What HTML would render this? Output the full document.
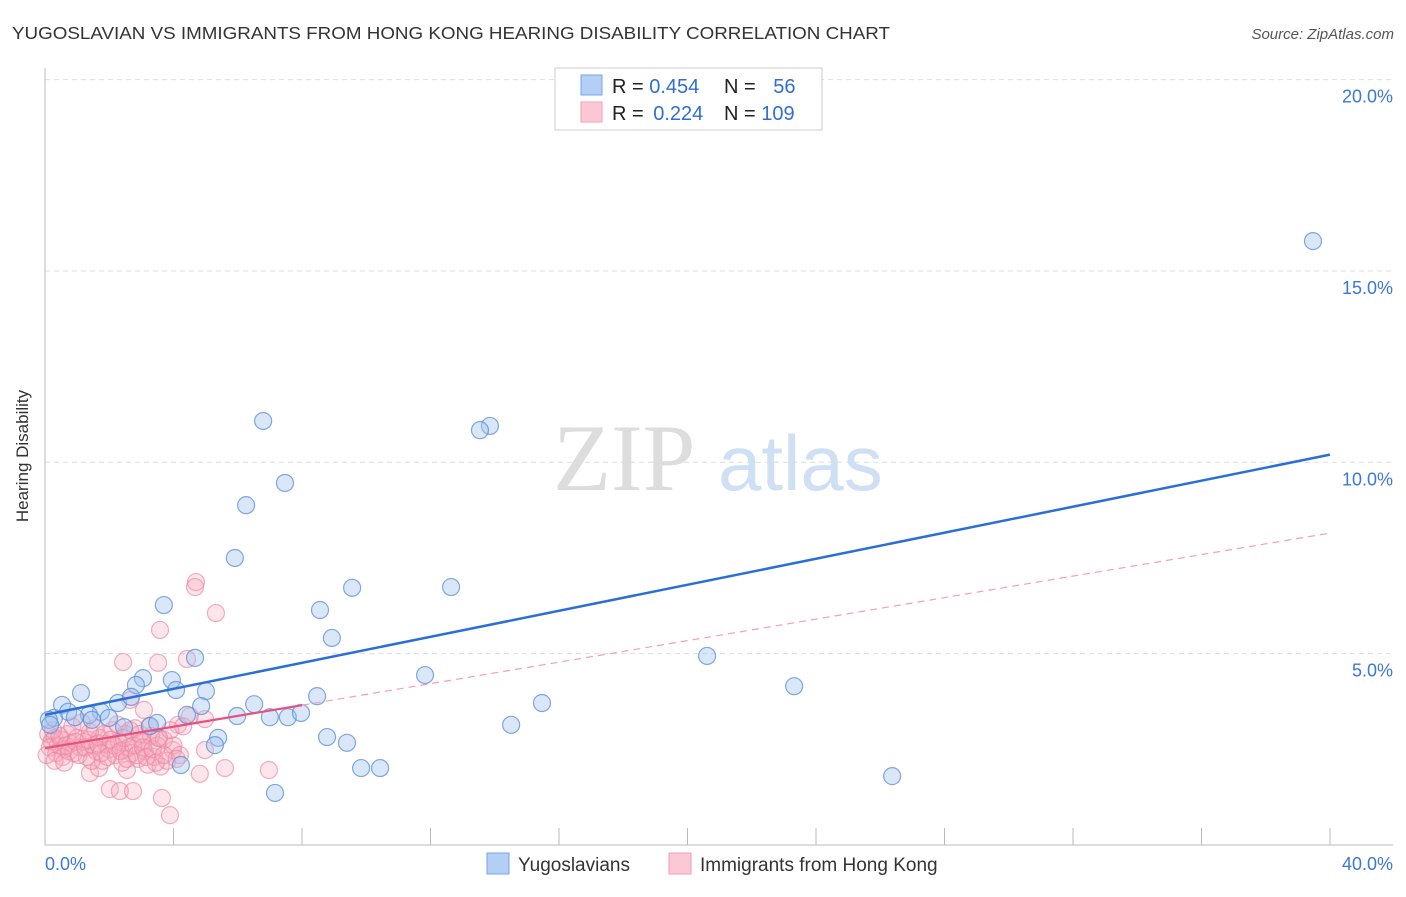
<!DOCTYPE html>
<html><head><meta charset="utf-8"><style>
body{margin:0;background:#fff;width:1406px;height:892px;overflow:hidden;font-family:"Liberation Sans",sans-serif}
</style></head><body>
<svg width="1406" height="892" xmlns="http://www.w3.org/2000/svg" style="font-family:'Liberation Sans',sans-serif">
<text x="12" y="39" font-size="17.5" fill="#333" textLength="878" lengthAdjust="spacingAndGlyphs">YUGOSLAVIAN VS IMMIGRANTS FROM HONG KONG HEARING DISABILITY CORRELATION CHART</text>
<text x="1394" y="39" font-size="15" fill="#555" font-style="italic" text-anchor="end">Source: ZipAtlas.com</text>
<g id="grid"></g>
<g><text x="553" y="490" font-size="95" fill="#ddd" font-family="'Liberation Serif',serif">ZIP</text><text x="718" y="490" font-size="78" fill="#d0e0f4">atlas</text></g>
<line x1="45" y1="68" x2="45" y2="845" stroke="#bbb"/>
<line x1="45" y1="845" x2="1393" y2="845" stroke="#bbb"/>
<text x="28" y="456" font-size="17" fill="#333" text-anchor="middle" transform="rotate(-90 28 456)">Hearing Disability</text>
<g id="ticks"></g>
<g id="pink"></g><g id="blue"></g><g id="lines"></g>
<g>
<rect x="555" y="68" width="267" height="62" fill="#fff" stroke="#ccc"/>
<rect x="581" y="75" width="21" height="20" fill="#b3cff5" stroke="#7aa6e6"/>
<rect x="581" y="102" width="21" height="20" fill="#fcc8d6" stroke="#f0a0b8"/>
<text x="612" y="93" font-size="20" fill="#222">R = <tspan fill="#2f6fd1">0.454</tspan></text>
<text x="724" y="93" font-size="20" fill="#222">N = <tspan fill="#2f6fd1" dx="12">56</tspan></text>
<text x="612" y="120" font-size="20" fill="#222">R = <tspan fill="#2f6fd1" dx="4">0.224</tspan></text>
<text x="724" y="120" font-size="20" fill="#222">N = <tspan fill="#2f6fd1">109</tspan></text>
</g>
<g>
<rect x="487" y="853" width="22" height="21" fill="#b3cff5" stroke="#7aa6e6"/>
<text x="518" y="871" font-size="19" fill="#333">Yugoslavians</text>
<rect x="669" y="853" width="22" height="21" fill="#fcc8d6" stroke="#f0a0b8"/>
<text x="700" y="871" font-size="19" fill="#333">Immigrants from Hong Kong</text>
</g>
</svg>
<script>
const yTicks=[5,10,15,20];
const yTickLabels=["5.0%","10.0%","15.0%","20.0%"];
const xTickLabels=["0.0%","40.0%"];
const blueX=[39.47,6.79,13.85,13.54,7.47,6.26,5.91,3.70,9.56,12.64,8.56,8.93,4.67,20.61,3.95,3.05,2.83,4.08,5.01,1.12,23.32,11.83,0.53,2.27,2.68,4.86,6.51,8.47,15.47,0.72,1.74,1.37,1.99,0.28,0.12,5.98,7.00,7.56,7.97,1.46,2.46,3.27,3.49,4.42,14.51,5.39,8.78,9.40,5.29,4.23,9.84,10.43,26.37,7.16,0.16,0.93];
const blueY=[15.78,11.08,10.95,10.84,9.46,8.88,7.50,6.27,6.72,6.74,6.14,5.41,4.89,4.94,4.31,4.36,4.18,4.05,4.02,3.97,4.15,4.44,3.66,3.71,3.87,3.63,3.68,3.89,3.71,3.48,3.48,3.40,3.32,3.32,3.27,3.37,3.34,3.34,3.45,3.27,3.08,3.11,3.19,3.40,3.14,2.80,2.82,2.67,2.61,2.09,2.01,2.01,1.80,1.36,3.14,3.34];
const pinkX=[4.70,4.67,5.32,3.58,3.52,2.43,4.42,3.08,2.65,4.51,4.98,4.14,3.52,3.05,2.46,2.02,2.33,2.74,3.64,3.89,5.60,6.97,4.82,4.98,3.98,1.40,1.68,2.55,
0.1,0.2,0.3,0.4,0.5,0.6,0.7,0.8,0.9,1.0,1.1,1.2,1.3,1.4,1.5,1.6,1.7,1.8,1.9,2.0,2.1,2.2,2.3,2.4,2.5,2.6,2.7,2.8,2.9,3.0,3.1,3.2,3.3,3.4,3.5,3.6,3.7,3.8,4.0,4.2,
0.15,0.25,0.35,0.45,0.55,0.65,0.75,0.85,0.95,1.05,1.15,1.25,1.35,1.45,1.55,1.65,1.75,1.85,1.95,2.05,2.15,2.25,2.35,2.45,2.55,2.65,2.75,2.85,2.95,3.05,3.15,3.25,3.35,3.45,3.55,3.7,3.9,4.1,4.3,0.05,0.3,0.6];
const pinkY=[6.87,6.74,6.06,5.62,4.76,4.78,4.86,3.53,3.79,3.37,3.29,3.14,2.80,2.69,2.48,1.46,1.41,1.41,1.23,0.78,2.01,1.96,1.86,2.48,2.48,1.88,2.01,1.96,
2.9,2.7,2.8,2.6,2.75,2.5,2.9,2.65,2.4,2.8,2.55,2.7,2.3,2.95,2.6,2.45,2.8,2.2,2.65,2.5,3.0,2.35,2.7,2.15,2.9,2.55,2.4,3.05,2.25,2.7,2.45,2.1,2.85,2.3,2.6,2.05,2.75,2.2,2.6,2.35,
2.55,3.0,2.4,2.85,2.3,2.6,2.45,3.1,2.7,2.35,3.2,2.55,2.75,2.2,3.05,2.65,2.4,2.9,2.3,2.75,2.6,3.15,2.45,2.8,2.25,3.0,2.6,2.35,2.9,2.55,2.3,3.1,2.5,2.15,2.8,2.35,3.0,2.25,3.1,2.35,2.2,2.15];
const blueTrend=[3.4,10.2];
const pinkTrend=[2.53,8.15];
const NS="http://www.w3.org/2000/svg";
const X=v=>45+v*32.125, Y=v=>845-v*38.27;
function mk(t,a,p){const e=document.createElementNS(NS,t);for(const k in a)e.setAttribute(k,a[k]);document.getElementById(p).appendChild(e);return e;}
yTicks.forEach((t,i)=>{
 const g=mk('line',{x1:45,x2:1393,y1:Y(t),y2:Y(t),stroke:'#ddd','stroke-dasharray':'5,4'},'grid');
 
 
 const l=mk('text',{x:1393,y:Y(t)+23,'font-size':18,fill:'#3b78d8','text-anchor':'end'},'ticks');
 l.textContent=yTickLabels[i];
 
 
});
for(let i=1;i<=10;i++){
 const t=mk('line',{x1:X(i*4),x2:X(i*4),y1:828,y2:845,stroke:'#bbb'},'ticks');
 
 
}
[[0,'start',45],[40,'end',1393]].forEach((d,i)=>{
 const l=mk('text',{x:d[2],y:870,'font-size':18,fill:'#3b78d8','text-anchor':d[1]},'ticks');
 l.textContent=xTickLabels[i];
 
 
});
pinkX.forEach((x,i)=>{
 const c=mk('circle',{cx:X(x),cy:Y(pinkY[i]),r:8.5,fill:'rgba(246,168,190,0.3)',stroke:'rgba(236,130,160,0.65)','stroke-width':1.2},'pink');
 
 
});
blueX.forEach((x,i)=>{
 const c=mk('circle',{cx:X(x),cy:Y(blueY[i]),r:8.5,fill:'rgba(160,196,240,0.4)',stroke:'rgba(90,140,215,0.75)','stroke-width':1.2},'blue');
 
 
});
const py=x=>pinkTrend[0]+(pinkTrend[1]-pinkTrend[0])*x/40;
const pd=mk('line',{x1:X(8),y1:Y(py(8)),x2:X(40),y2:Y(py(40)),stroke:'#f0a0b8','stroke-width':1.2,'stroke-dasharray':'7,5'},'lines');


const ps=mk('line',{x1:X(0),y1:Y(py(0)),x2:X(8),y2:Y(py(8)),stroke:'#e8507e','stroke-width':2.2},'lines');


const bl=mk('line',{x1:X(0),y1:Y(blueTrend[0]),x2:X(40),y2:Y(blueTrend[1]),stroke:'#2a6fd6','stroke-width':2.5},'lines');


</script>
</body></html>
